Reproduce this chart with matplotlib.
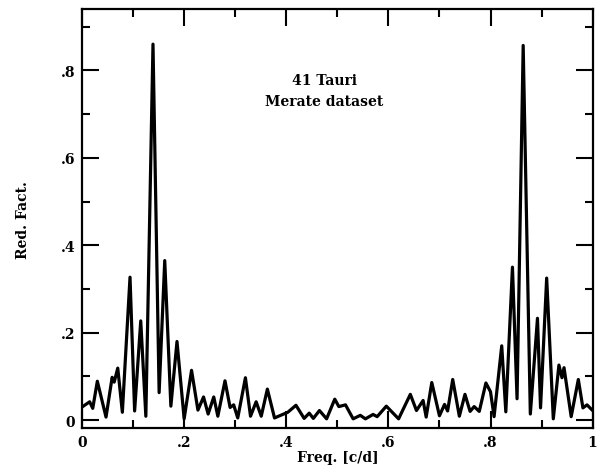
import matplotlib
matplotlib.use("Agg")
import matplotlib.pyplot as plt
from matplotlib.ticker import MultipleLocator, FixedLocator

# Frequency (c/d) and reduction factor (extrema)
freq = [0.000, 0.015, 0.021, 0.030, 0.047, 0.059, 0.063, 0.070, 0.079, 0.094,
        0.103, 0.115, 0.125, 0.139, 0.151, 0.162, 0.174, 0.186, 0.200, 0.2145,
        0.227, 0.238, 0.247, 0.258, 0.266, 0.280, 0.290, 0.297, 0.305, 0.320,
        0.330, 0.341, 0.351, 0.363, 0.377, 0.403, 0.419, 0.435, 0.445, 0.453,
        0.465, 0.479, 0.495, 0.503, 0.516, 0.531, 0.545, 0.555, 0.570, 0.578,
        0.596, 0.620, 0.643, 0.655, 0.668, 0.674, 0.685, 0.700, 0.710, 0.716,
        0.726, 0.739, 0.750, 0.760, 0.768, 0.778, 0.791, 0.800, 0.807, 0.822,
        0.830, 0.843, 0.852, 0.864, 0.878, 0.892, 0.898, 0.910, 0.923, 0.934,
        0.940, 0.944, 0.958, 0.972, 0.981, 0.989, 1.000]
red_fact = [0.030, 0.042, 0.027, 0.089, 0.007, 0.098, 0.087, 0.119, 0.018, 0.327,
            0.021, 0.227, 0.009, 0.860, 0.063, 0.365, 0.032, 0.180, 0.003, 0.114,
            0.023, 0.053, 0.014, 0.053, 0.009, 0.090, 0.029, 0.035, 0.005, 0.097,
            0.009, 0.042, 0.009, 0.071, 0.005, 0.018, 0.034, 0.004, 0.016, 0.004,
            0.022, 0.003, 0.048, 0.031, 0.035, 0.003, 0.011, 0.003, 0.013, 0.008,
            0.032, 0.003, 0.059, 0.022, 0.045, 0.007, 0.086, 0.010, 0.036, 0.021,
            0.093, 0.009, 0.059, 0.020, 0.031, 0.020, 0.085, 0.065, 0.008, 0.170,
            0.019, 0.350, 0.049, 0.857, 0.014, 0.233, 0.028, 0.325, 0.003, 0.126,
            0.097, 0.120, 0.008, 0.093, 0.028, 0.035, 0.022]

x_ticks = [0.0, 0.2, 0.4, 0.6, 0.8, 1.0]
x_tick_labels = ["0", ".2", ".4", ".6", ".8", "1"]
y_ticks = [0.0, 0.2, 0.4, 0.6, 0.8]
y_tick_labels = ["0", ".2", ".4", ".6", ".8"]

plt.rcParams['font.family'] = ['DejaVu Serif']
plt.rcParams['font.weight'] = 'bold'

fig = plt.figure(figsize=(6.0, 4.77), dpi=100)
ax = fig.add_axes([0.1367, 0.1006, 0.851, 0.878])

ax.plot(freq, red_fact, color='black', linewidth=2.3, solid_joinstyle='round',
        solid_capstyle='round', clip_on=True)

ax.set_xlim(0, 1)
ax.set_ylim(-0.018, 0.94)

ax.xaxis.set_major_locator(FixedLocator(x_ticks))
ax.set_xticklabels(x_tick_labels)
ax.yaxis.set_major_locator(FixedLocator(y_ticks))
ax.set_yticklabels(y_tick_labels)
ax.xaxis.set_minor_locator(MultipleLocator(0.1))
ax.yaxis.set_minor_locator(MultipleLocator(0.1))

ax.tick_params(which='both', direction='in', top=True, right=True, width=1.5,
               labelsize=10, pad=5)
ax.tick_params(which='major', length=12)
ax.tick_params(which='minor', length=6)
for lab in ax.get_xticklabels() + ax.get_yticklabels():
    lab.set_fontweight('bold')
for sp in ax.spines.values():
    sp.set_linewidth(1.6)

ax.set_xlabel("Freq. [c/d]", fontsize=10, fontweight='bold', labelpad=1)
ax.set_ylabel("Red. Fact.", fontsize=10, fontweight='bold', labelpad=22)

ax.text(0.474, 0.83, "41 Tauri", transform=ax.transAxes, ha='center', va='center',
        fontsize=10, fontweight='bold')
ax.text(0.474, 0.78, "Merate dataset", transform=ax.transAxes, ha='center',
        va='center', fontsize=10, fontweight='bold')

fig.savefig("out.png", dpi=100)
